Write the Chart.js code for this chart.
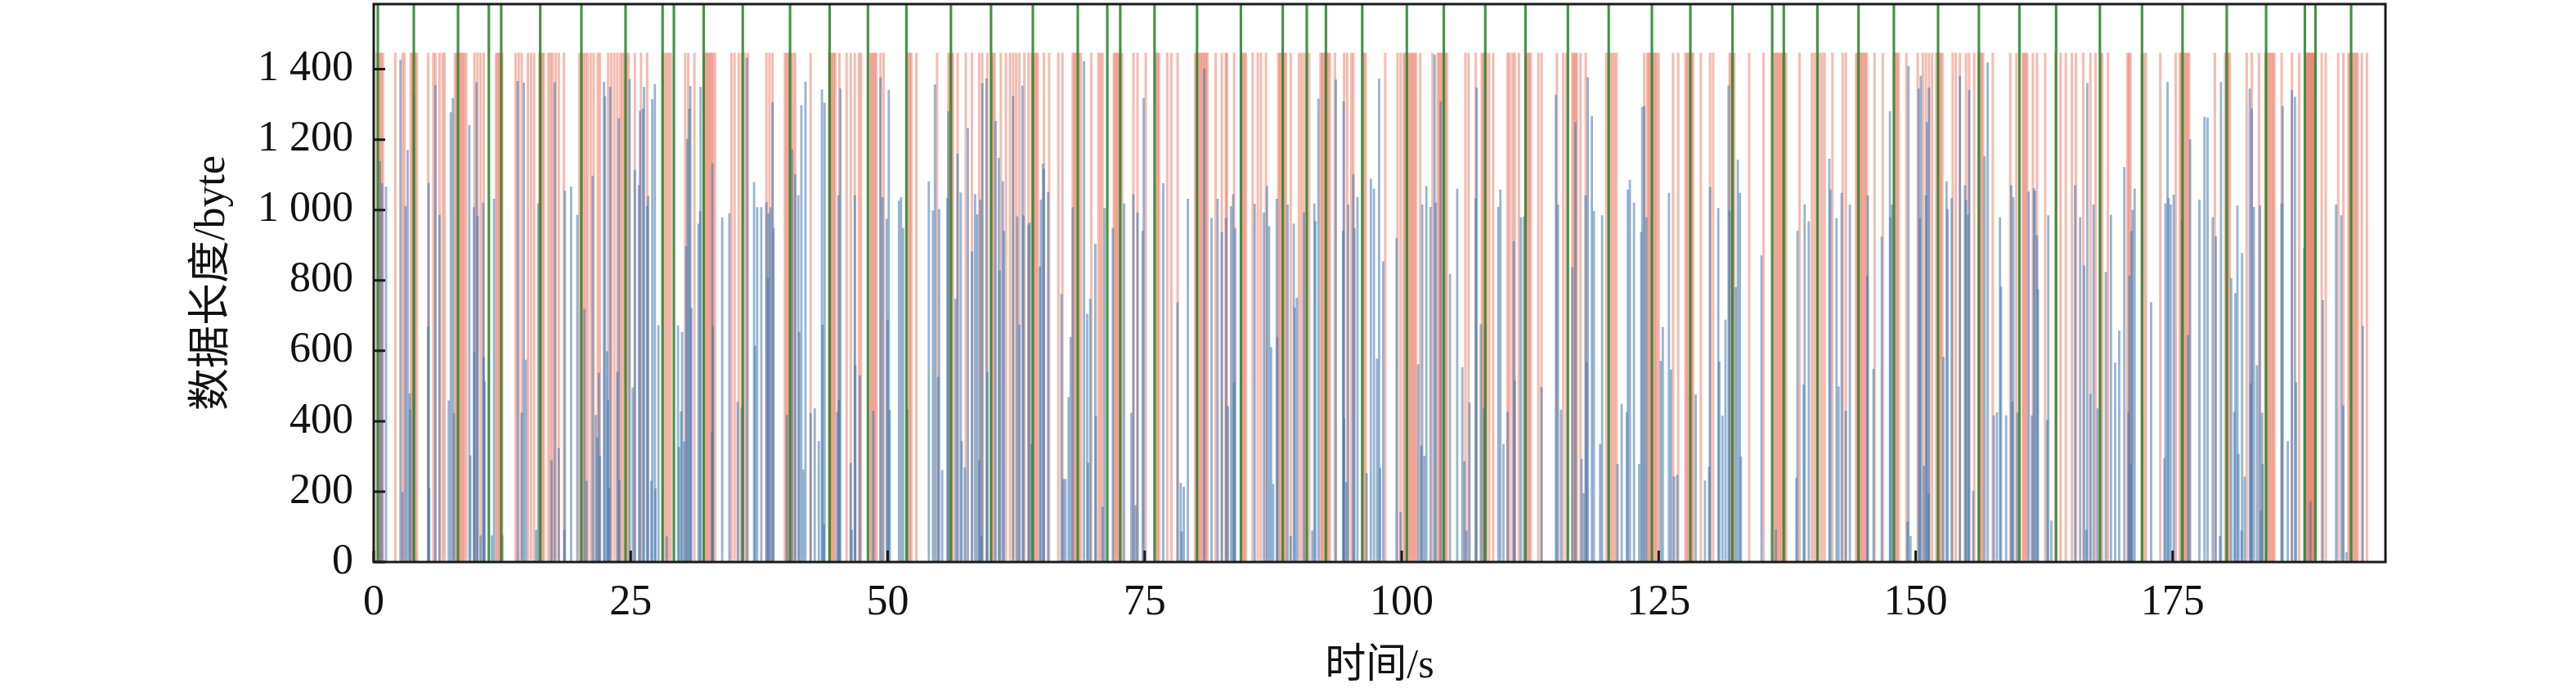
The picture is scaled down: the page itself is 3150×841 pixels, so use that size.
<!DOCTYPE html>
<html><head><meta charset="utf-8">
<script src="https://cdn.jsdelivr.net/npm/chart.js@4.4.1/dist/chart.umd.min.js"></script>
<style>html,body{margin:0;padding:0;background:#fff;} #wrap{width:3150px;height:841px;}</style>
</head><body><div id="wrap"><canvas id="c" width="3150" height="841"></canvas></div>
<script>
const xTickValues = [0,25,50,75,100,125,150,175];
const xTickLabels = ['0','25','50','75','100','125','150','175'];
const yTickValues = [0,200,400,600,800,1000,1200,1400];
const yTickLabels = ['0','200','400','600','800','1 000','1 200','1 400'];
const xMax = 195.7;
const yMax = 1585;

const greenTimes = [0.4,3.9,8.2,11.2,12.4,16.2,20.2,24.5,28.1,29.2,32.1,35.9,40.5,44.35,48.08,51.82,56.15,60.05,64.12,68.49,71.36,72.62,75.96,80.09,84.36,88.43,90.77,92.63,96.16,100.5,104.1,108.13,112.04,116.17,120.14,124.34,128.08,132.18,136.04,137.17,140.44,144.44,147.88,152.18,156.15,160.09,163.66,167.92,172.02,175.96,180.26,184.09,187.86,188.89,192.36];

const redLength = 1446;
const redTimes = [
0.3,0.45,0.6,0.75,0.9,2.1,2.8,3.0,3.6,3.75,3.9,4.05,4.2,5.3,5.8,6.0,6.4,6.7,6.9,
7.9,8.05,8.2,8.35,8.5,8.65,8.8,9.0,9.8,10.1,10.4,10.7,11.9,12.05,12.2,12.35,12.5,
13.8,14.1,14.4,15.0,15.3,15.6,16.1,16.25,16.4,16.55,17.0,17.2,17.4,17.7,18.0,18.5,
20.0,20.2,20.4,20.6,20.8,21.1,21.4,21.8,22.0,22.8,23.1,23.4,23.7,24.0,24.2,24.4,24.6,24.8,
25.4,26.0,26.6,28.1,28.3,28.5,28.7,28.9,30.3,30.6,31.2,32.1,32.25,32.4,32.55,32.7,32.85,33.0,33.2,
34.8,35.1,35.5,35.8,36.1,36.4,38.2,38.5,38.8,40.0,40.15,40.3,40.45,40.6,40.8,41.0,
42.5,44.3,44.45,44.6,44.75,44.9,45.3,46.0,46.4,46.8,47.2,47.4,
48.3,48.45,48.6,48.75,48.9,49.3,49.6,52.0,52.15,52.3,52.8,54.8,
55.9,56.05,56.2,56.35,56.8,57.6,58.2,58.9,59.2,59.7,
60.1,60.25,60.4,61.0,61.5,61.9,62.2,62.5,62.8,63.3,63.7,
64.0,64.15,64.3,64.45,64.6,65.2,65.7,66.6,67.0,
68.0,68.15,68.3,68.45,68.6,68.8,69.8,70.5,70.7,70.9,
72.0,72.15,72.3,72.45,72.6,72.8,73.9,74.3,75.1,76.1,76.25,76.4,77.2,77.6,78.2,
79.9,80.05,80.2,80.35,80.5,80.65,80.8,80.95,81.1,81.9,82.5,82.9,83.0,83.7,
84.4,84.55,84.7,84.85,85.5,86.0,86.3,86.8,
88.0,88.15,88.3,88.45,88.6,88.75,89.2,90.0,90.25,90.5,90.75,91.0,
92.1,92.25,92.4,92.55,92.7,92.85,93.0,93.5,
94.4,94.7,95.1,95.3,96.2,96.35,96.5,98.4,99.6,99.9,
100.2,100.35,100.5,100.65,100.8,100.95,101.1,101.25,101.4,101.8,103.0,
103.5,103.65,103.8,103.95,104.1,104.25,104.4,106.2,106.5,107.2,
107.8,107.95,108.1,108.25,108.5,108.9,110.3,110.5,110.8,111.0,111.4,
112.1,112.25,112.4,112.55,113.3,113.6,115.1,115.7,116.0,
116.6,116.75,116.9,117.05,117.4,117.9,119.9,120.1,120.3,120.5,120.7,120.9,123.6,
123.9,124.05,124.2,124.35,124.5,124.65,124.8,125.0,126.4,126.9,
127.6,127.75,127.9,128.05,128.2,128.35,129.1,130.0,130.3,
131.9,132.05,132.2,132.35,133.8,135.2,
136.2,136.35,136.5,136.65,136.8,136.95,137.1,137.25,137.4,138.7,
139.9,140.15,140.4,140.65,140.9,141.15,141.9,142.9,143.2,
144.2,144.35,144.5,144.65,144.8,144.95,145.1,145.25,
146.0,146.8,147.9,148.05,148.2,148.35,149.1,150.2,150.7,151.0,151.3,151.6,
152.0,152.15,152.3,152.45,152.6,153.6,153.9,154.3,154.9,155.2,155.7,
156.1,156.25,156.4,156.55,157.5,159.2,159.8,160.4,160.55,160.7,160.85,
161.4,161.8,162.6,163.6,164.1,164.6,165.2,165.6,166.3,167.0,167.5,
168.0,168.15,168.7,170.6,170.75,170.9,172.0,172.2,172.4,173.8,175.3,
175.7,175.85,176.0,176.15,176.3,176.45,176.6,179.1,180.1,180.25,180.4,180.55,
182.2,182.7,183.4,184.0,184.15,184.3,184.45,184.6,184.75,184.9,185.6,186.6,187.3,
188.0,188.1,188.2,188.3,188.4,188.5,188.6,188.7,188.8,189.5,189.9,191.1,191.6,
192.1,192.25,192.4,192.55,192.7,192.85,193.0,193.4,193.9
];

const blueTimes = [
0.6,0.8,1.2,2.6,2.8,3.1,3.3,3.5,3.55,3.9,5.3,5.35,5.4,6.0,6.4,7.3,7.5,7.7,7.8,9.3,9.4,9.75,9.8,10.0,10.1,10.4,10.65,10.7,10.8,11.5,11.7,12.5,
14.0,14.4,14.6,14.8,15.8,16.0,17.3,17.6,18.0,18.55,18.6,19.2,19.8,20.5,20.7,21.3,21.6,21.75,21.9,22.0,22.4,22.5,22.7,22.8,22.9,23.0,23.7,23.85,23.9,
24.9,25.2,25.4,25.8,25.9,26.2,26.3,26.6,26.7,27.0,27.1,27.35,27.4,27.7,28.5,29.6,29.7,29.9,30.0,30.2,30.4,30.5,30.7,30.8,30.9,31.6,31.75,31.8,
32.9,32.95,33.0,33.9,34.6,35.4,35.8,36.3,37.0,37.1,37.3,37.7,38.2,38.35,38.4,38.6,38.8,38.9,40.2,40.7,41.0,41.3,41.4,41.6,41.8,42.0,
42.5,42.9,43.3,43.6,43.65,43.8,43.85,45.1,45.2,45.25,45.4,46.4,46.5,46.8,46.85,47.3,48.6,49.3,49.5,49.9,50.0,50.1,50.2,51.1,51.3,51.5,51.9,
54.0,54.4,54.6,54.9,55.0,55.3,55.8,55.9,56.6,56.8,57.1,57.2,57.5,57.8,58.2,58.5,58.7,58.9,59.0,59.1,59.2,59.6,59.7,60.5,60.8,60.9,61.2,61.3,
62.2,62.6,62.8,63.1,63.2,63.7,63.8,64.0,64.8,64.9,65.1,65.2,65.6,66.9,67.1,67.3,67.6,67.8,68.0,69.1,69.4,69.5,69.7,70.2,70.25,70.9,71.1,71.9,
73.0,73.7,73.9,74.1,74.3,74.8,74.9,76.8,78.2,78.5,78.6,78.8,79.2,80.8,81.5,82.1,82.5,82.9,83.1,83.4,83.6,83.7,83.8,85.7,86.6,86.9,87.1,87.3,87.5,
87.85,87.9,88.9,89.2,89.5,89.6,89.8,90.5,91.3,91.5,91.6,91.9,93.6,94.3,
94.35,94.4,94.6,94.8,95.3,95.4,95.7,96.6,97.0,97.3,97.6,97.8,97.9,98.2,99.5,99.9,101.6,101.9,102.0,102.2,102.4,102.8,103.2,103.3,103.8,104.7,
105.4,105.9,106.1,106.3,106.6,107.2,107.3,107.7,108.0,109.4,109.6,109.9,110.3,110.9,111.0,111.6,111.9,113.6,115.0,115.2,115.5,116.6,116.9,117.5,117.7,
117.9,118.0,118.1,118.5,118.7,119.3,119.5,121.0,121.4,121.9,122.0,122.2,122.6,123.1,123.3,123.4,123.6,123.8,125.2,125.4,126.0,126.2,126.5,126.8,
128.6,129.5,129.9,130.0,130.8,130.9,131.2,131.5,131.8,131.9,132.5,132.7,132.9,133.0,135.0,136.4,138.4,138.5,139.1,139.2,139.6,141.6,141.7,142.3,
142.5,142.8,143.2,143.6,145.3,145.35,
145.9,146.7,147.5,147.55,147.7,149.2,149.3,149.5,150.3,150.4,150.5,150.8,151.0,151.1,151.25,151.3,152.7,153.0,153.1,153.5,154.3,154.8,154.9,155.1,155.2,155.6,
156.7,157.0,157.6,157.9,158.2,158.3,158.8,159.3,159.4,159.5,159.9,161.0,161.3,161.5,161.6,161.8,161.9,162.8,162.9,163.2,165.5,166.0,166.4,166.6,166.7,
167.0,167.3,167.7,168.5,169.0,169.4,169.8,170.3,170.7,170.8,170.9,171.0,171.1,171.3,172.9,174.2,174.3,174.5,174.6,174.8,175.1,175.9,176.5,176.7,
177.6,178.1,178.4,178.9,179.2,179.6,179.7,180.7,181.0,181.1,181.3,181.4,181.7,181.75,182.0,182.5,182.6,182.7,182.9,183.2,183.5,183.6,183.7,183.75,
185.6,185.7,186.2,186.6,186.9,187.0,187.8,188.4,189.6,190.9,191.4,191.6,191.9,193.5
];
const blueLengths = [
1138,1076,1066,1426,198,1010,1170,478,433,1328,668,1076,208,1354,985,458,1277,1317,422,1241,302,1007,595,1362,983,75,1020,582,513,75,1031,75,
1366,424,1361,574,91,1018,288,1362,323,91,1054,1066,985,718,230,1097,417,353,537,302,1364,1322,598,459,210,1349,540,1260,232,
1371,495,1113,1070,1281,1287,1349,1010,1040,230,1314,1357,208,672,72,672,326,427,653,342,897,1202,1287,1351,721,960,996,1349,
369,1132,670,979,990,454,438,1432,1079,614,1007,1007,1022,806,990,1007,1306,948,417,1172,1100,1041,652,1297,262,1364,
423,436,343,1342,673,107,1304,426,1041,460,1344,281,91,1041,558,529,429,1376,1036,974,688,1340,432,1026,1036,948,434,
1081,998,1356,525,1002,261,1033,1280,747,1160,1049,343,268,1233,882,1044,987,289,1028,73,1360,1373,538,1252,1148,828,1081,940,
1324,981,673,1353,984,958,963,335,839,1029,1131,1117,1051,761,235,235,468,639,1007,1422,704,281,747,903,415,156,1005,948,
1018,423,1044,161,992,940,1318,1075,737,224,86,213,1031,1401,977,1031,937,976,442,1010,1044,510,948,1017,992,1067,953,610,221,
1031,639,1015,73,961,722,750,992,89,1018,968,1316,1370,940,
1308,408,226,1015,1100,948,1036,252,1088,1060,577,1373,266,854,920,141,561,330,1015,301,1067,1008,1441,1020,1308,818,
1060,553,286,89,453,1033,1347,675,436,1008,1057,335,426,911,514,979,981,496,1327,1015,432,837,1249,292,195,
1041,567,1376,1266,996,335,984,278,449,426,1057,1085,1020,278,937,1292,1295,979,571,667,1048,546,242,247,
475,231,270,1065,1005,569,415,688,1353,998,780,1142,1048,299,870,91,239,940,504,1015,968,1145,1057,976,
498,1048,429,1015,813,1041,
548,924,1280,979,1015,114,1408,73,1344,976,1381,273,1041,1249,193,1347,582,1081,1002,1033,1381,1070,1029,986,1340,202,
1152,1418,416,424,979,782,416,1070,455,1036,424,1052,416,1062,1054,927,774,403,984,117,1070,979,842,91,1360,
477,1015,436,823,986,566,657,1121,426,813,278,940,1000,1060,737,294,1018,1363,1033,1015,1043,974,644,1200,
1029,1264,1262,979,924,73,1363,805,426,763,1012,307,89,877,242,1344,507,1288,1008,558,1012,145,424,278,
1018,1295,343,1340,1321,510,891,172,743,1015,984,444,27,670
];

const serif = '"Liberation Serif", "Times New Roman", serif';
const titleFont = '"Liberation Serif", "Noto Sans CJK SC", serif';

const framePlugin = {
  id: 'frame',
  afterDraw(chart) {
    const {ctx, chartArea: a, scales: {x, y}} = chart;
    ctx.save();
    ctx.strokeStyle = '#1a1a1a';
    ctx.lineWidth = 3;
    ctx.beginPath();
    xTickValues.forEach(v => { const p = x.getPixelForValue(v); ctx.moveTo(p, a.bottom); ctx.lineTo(p, a.bottom - 14); });
    yTickValues.forEach(v => { const p = y.getPixelForValue(v); ctx.moveTo(a.left, p); ctx.lineTo(a.left + 14, p); });
    ctx.stroke();
    ctx.strokeRect(a.left, a.top, a.right - a.left, a.bottom - a.top);
    ctx.restore();
  }
};

const labelFrom = (vals, labels) => (v) => { const i = vals.indexOf(v); return i >= 0 ? labels[i] : ''; };

new Chart(document.getElementById('c'), {
  type: 'bar',
  data: {
    datasets: [
      { label: 'green', data: greenTimes.map(t => ({x: t, y: yMax})), backgroundColor: 'rgba(50,135,50,0.9)', barThickness: 2.5, grouped: false, borderWidth: 0 },
      { label: 'blue', data: blueTimes.map((t, i) => ({x: t, y: blueLengths[i]})), backgroundColor: 'rgba(65,120,175,0.55)', barThickness: 2.2, grouped: false, borderWidth: 0 },
      { label: 'red', data: redTimes.map(t => ({x: t, y: redLength})), backgroundColor: 'rgba(228,95,70,0.42)', barThickness: 2.4, grouped: false, borderWidth: 0 }
    ]
  },
  options: {
    responsive: false,
    animation: false,
    devicePixelRatio: 1,
    layout: { padding: { left: 0, right: 233, top: 5, bottom: 0 } },
    plugins: { legend: { display: false }, tooltip: { enabled: false } },
    scales: {
      x: {
        type: 'linear', min: 0, max: xMax, offset: false,
        grid: { display: false, drawTicks: false },
        border: { display: false },
        afterBuildTicks: s => { s.ticks = xTickValues.map(v => ({value: v})); },
        afterFit: s => { s.height = 154; s.paddingLeft = 0; s.paddingRight = 0; },
        ticks: { padding: 19, maxRotation: 0, autoSkip: false, color: '#111', font: { family: serif, size: 52 }, callback: labelFrom(xTickValues, xTickLabels) },
        title: { display: true, text: '时间/s', color: '#111', font: { family: titleFont, size: 50, lineHeight: 1 }, padding: { top: 0, bottom: 1 } }
      },
      y: {
        type: 'linear', min: 0, max: yMax,
        grid: { display: false, drawTicks: false },
        border: { display: false },
        afterBuildTicks: s => { s.ticks = yTickValues.map(v => ({value: v})); },
        afterFit: s => { s.width = 457; s.paddingTop = 0; s.paddingBottom = 0; },
        ticks: { padding: 25, color: '#111', font: { family: serif, size: 52 }, callback: labelFrom(yTickValues, yTickLabels) },
        title: { display: true, text: '数据长度/byte', color: '#111', font: { family: titleFont, size: 52, lineHeight: 1 }, padding: { top: 234, bottom: 0 } }
      }
    }
  },
  plugins: [framePlugin]
});
</script>
</body></html>
